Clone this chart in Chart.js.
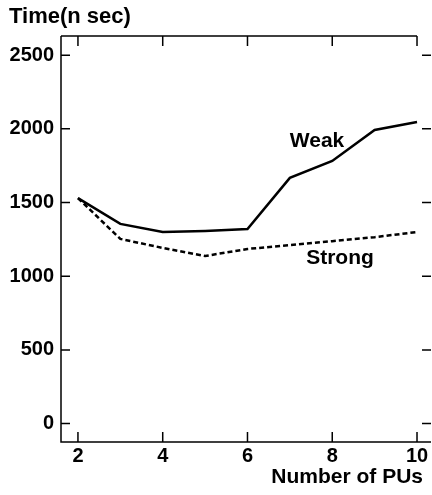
<!DOCTYPE html>
<html>
<head>
<meta charset="utf-8">
<script src="https://cdn.jsdelivr.net/npm/chart.js@4/dist/chart.umd.min.js"></script>
<style>
  html, body { margin: 0; padding: 0; background: #fff; }
  #wrap { width: 432px; height: 495px; position: relative; }
</style>
</head>
<body>
<div id="wrap"><canvas id="chart"></canvas></div>
<script>
// number of PUs
const pus = [2, 3, 4, 5, 6, 7, 8, 9, 10];
// time in n sec
const weakTimes = [1530, 1355, 1300, 1307, 1320, 1667, 1782, 1992, 2046];
const strongTimes = [1530, 1253, 1192, 1137, 1185, 1211, 1238, 1265, 1300];

const yTicks = [0, 500, 1000, 1500, 2000, 2500];
const xTicks = [2, 4, 6, 8, 10];

const FONT = 'Liberation Sans, Arial, Helvetica, sans-serif';

// frame, inward tick marks and text labels
const framePlugin = {
  id: 'frame',
  afterDraw(chart) {
    const ctx = chart.ctx;
    const area = chart.chartArea;
    const xs = chart.scales.x;
    const ys = chart.scales.y;
    ctx.save();
    ctx.strokeStyle = '#000';
    ctx.lineWidth = 1.5;
    ctx.beginPath();
    // left + bottom
    ctx.moveTo(area.left, area.top);
    ctx.lineTo(area.left, area.bottom);
    ctx.lineTo(area.right, area.bottom);
    // top line up to x = 10
    ctx.moveTo(area.left, area.top);
    ctx.lineTo(xs.getPixelForValue(10), area.top);
    // x ticks top and bottom
    xTicks.forEach(v => {
      const px = xs.getPixelForValue(v);
      ctx.moveTo(px, area.top);
      ctx.lineTo(px, area.top + 10);
      ctx.moveTo(px, area.bottom);
      ctx.lineTo(px, area.bottom - 10);
    });
    // y ticks left and right
    yTicks.forEach(v => {
      const py = ys.getPixelForValue(v);
      ctx.moveTo(area.left, py);
      ctx.lineTo(area.left + 9, py);
      ctx.moveTo(area.right, py);
      ctx.lineTo(area.right - 9, py);
    });
    ctx.stroke();

    ctx.fillStyle = '#000';
    ctx.textBaseline = 'middle';
    ctx.textAlign = 'left';
    ctx.font = 'bold 22px ' + FONT;
    ctx.fillText('Time(n sec)', 9, 17);
    ctx.font = 'bold 21px ' + FONT;
    ctx.textAlign = 'right';
    ctx.fillText('Number of PUs', 423, 477);
    ctx.textAlign = 'center';
    ctx.fillText('Weak', 317, 141);
    ctx.fillText('Strong', 340, 258);
    ctx.restore();
  }
};

function createChart() {
  const ctx = document.getElementById('chart').getContext('2d');

  new Chart(ctx, {
    type: 'line',
    data: {
      datasets: [
        {
          label: 'Weak',
          data: pus.map((x, i) => ({ x: x, y: weakTimes[i] })),
          borderColor: '#000',
          borderWidth: 2.5,
          pointRadius: 0,
          tension: 0,
          fill: false
        },
        {
          label: 'Strong',
          data: pus.map((x, i) => ({ x: x, y: strongTimes[i] })),
          borderColor: '#000',
          borderWidth: 2.5,
          borderDash: [5, 3],
          pointRadius: 0,
          tension: 0,
          fill: false
        }
      ]
    },
    options: {
      responsive: true,
      maintainAspectRatio: false,
      animation: false,
      layout: {
        padding: { top: 36, left: 0, right: 1, bottom: 0 }
      },
      plugins: {
        legend: { display: false },
        tooltip: { enabled: false },
        title: { display: false }
      },
      scales: {
        x: {
          type: 'linear',
          min: 1.6,
          max: 10.33,
          afterFit: (scale) => { scale.height = 53; },
          afterBuildTicks: (scale) => { scale.ticks = xTicks.map(v => ({ value: v })); },
          grid: { display: false, drawTicks: false },
          border: { display: false },
          ticks: {
            color: '#000',
            padding: 2,
            callback: (v) => String(v),
            font: { family: FONT, size: 20, weight: 'bold' }
          }
        },
        y: {
          type: 'linear',
          min: -125,
          max: 2630,
          afterFit: (scale) => { scale.width = 61; },
          afterBuildTicks: (scale) => { scale.ticks = yTicks.map(v => ({ value: v })); },
          grid: { display: false, drawTicks: false },
          border: { display: false },
          ticks: {
            color: '#000',
            padding: 7,
            callback: (v) => String(v),
            font: { family: FONT, size: 20, weight: 'bold' }
          }
        }
      }
    },
    plugins: [framePlugin]
  });
}

document.addEventListener('DOMContentLoaded', function () {
  try {
    createChart();
  } catch (error) {
    console.error(error);
  }
});
</script>
</body>
</html>
